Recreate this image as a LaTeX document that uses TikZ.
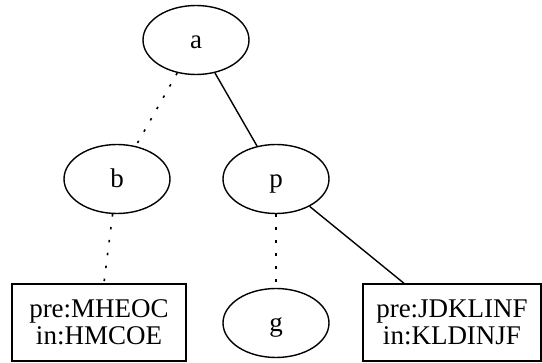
\documentclass[tikz,border=0pt]{standalone}
\usepackage{fontspec}
\setmainfont{Liberation Serif}
\usetikzlibrary{shapes.geometric}
\begin{document}
\begin{tikzpicture}[x=1pt,y=-1pt,
  every node/.style={font=\fontsize{27}{27}\selectfont},
  oval/.style={ellipse,draw,line width=1.4pt,minimum width=106pt,minimum height=69pt,inner sep=0pt,text height=18pt,text depth=0pt},
  frame/.style={rectangle,draw,line width=1.4pt,inner sep=0pt,align=center},
  solidedge/.style={line width=1.4pt},
  dotedge/.style={line width=1.6pt,dash pattern=on 2.5pt off 10.5pt}]
\useasboundingbox (0,0) rectangle (542,363);
\node[oval] (a) at (196,40) {a};
\node[oval] (b) at (117,179) {b};
\node[oval] (p) at (276,179) {p};
\node[oval] (g) at (276,323) {g};
\node[frame,minimum width=174pt,minimum height=77pt] (l1) at (99,322.5) {pre:MHEOC\\in:HMCOE};
\node[frame,minimum width=178pt,minimum height=77pt] (l2) at (452,322.5) {pre:JDKLINF\\in:KLDINJF};
\draw[dotedge] (a) -- (b);
\draw[solidedge] (a) -- (p);
\draw[dotedge] (b) -- (l1);
\draw[dotedge] (p) -- (g);
\draw[solidedge] (p) -- (l2);
\end{tikzpicture}
\end{document}
